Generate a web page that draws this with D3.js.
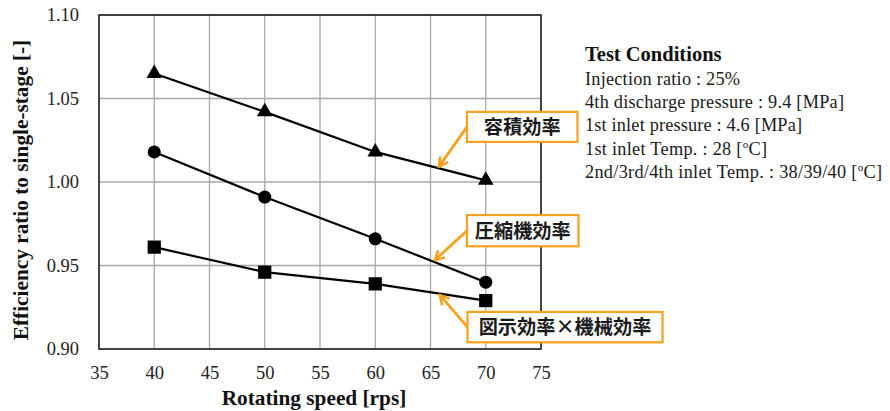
<!DOCTYPE html>
<html>
<head>
<meta charset="utf-8">
<script src="https://cdn.jsdelivr.net/npm/d3@7"></script>
<style>
  html, body { margin: 0; padding: 0; background: #fff; }
  svg { display: block; }
</style>
</head>
<body>
<svg id="chart" width="890" height="411"></svg>
<script>
// Rotating speed [rps]
const speeds = [40, 50, 60, 70];

// Efficiency ratios to single-stage compression
const volumetricEff  = [1.065, 1.042, 1.018, 1.001];   // 容積効率 (triangles)
const compressorEff  = [1.018, 0.991, 0.966, 0.940];   // 圧縮機効率 (circles)
const indicatedMech  = [0.961, 0.946, 0.939, 0.929];   // 図示効率×機械効率 (squares)

const xTicks = [35, 40, 45, 50, 55, 60, 65, 70, 75];
const yTicks = [0.90, 0.95, 1.00, 1.05, 1.10];

// Callout labels: arrow tip on the curve, box extent (data units)
const calloutLabels = ["容積効率", "圧縮機効率", "図示効率×機械効率"];
const calloutTips   = [[65.77, 1.0092], [65.40, 0.9533], [65.86, 0.9323]];
const calloutBoxes  = [[68.3, 78.3, 1.0420, 1.0240], [68.3, 78.4, 0.9802, 0.9615], [68.35, 86.0, 0.9222, 0.9040]];

const conditionTitle = "Test Conditions";
const conditionLines = [
  ["Injection ratio : 25%"],
  ["4th discharge pressure : 9.4 [MPa]"],
  ["1st inlet pressure : 4.6 [MPa]"],
  ["1st inlet Temp. : 28 [", "o", "C]"],
  ["2nd/3rd/4th inlet Temp. : 38/39/40 [", "o", "C]"]
];
// set widths of the condition lines (px)
const conditionWidths = [155, 259, 217, 182, 297];

const svg = d3.select("#chart");
const serif = "'Liberation Serif', 'Times New Roman', serif";
const cjk = "'Noto Sans CJK JP', 'Noto Sans CJK SC', sans-serif";
const orange = "#F7A11E";

const x = d3.scaleLinear().domain([35, 75]).range([99, 541]);
const y = d3.scaleLinear().domain([0.90, 1.10]).range([349, 15]);

// grid
const grid = svg.append("g");
grid.selectAll("line.v").data(xTicks).join("line")
  .attr("x1", d => x(d)).attr("x2", d => x(d))
  .attr("y1", y(0.90)).attr("y2", y(1.10))
  .attr("stroke", "#a8a8a8").attr("stroke-width", 1.3);
grid.selectAll("line.h").data(yTicks).join("line")
  .attr("x1", x(35)).attr("x2", x(75))
  .attr("y1", d => y(d)).attr("y2", d => y(d))
  .attr("stroke", "#a8a8a8").attr("stroke-width", 1.3);

// plot frame
svg.append("rect")
  .attr("x", x(35)).attr("y", y(1.10))
  .attr("width", x(75) - x(35)).attr("height", y(0.90) - y(1.10))
  .attr("fill", "none").attr("stroke", "#222").attr("stroke-width", 1.6);

// axes (labels only; gridlines serve as ticks)
const xAxis = d3.axisBottom(x).tickValues(xTicks).tickSize(0).tickPadding(17).tickFormat(d3.format("d"));
const gx = svg.append("g").attr("transform", `translate(0,${y(0.90)})`).call(xAxis);
gx.select(".domain").remove();
gx.selectAll("text").attr("font-family", serif).attr("font-size", 18.5).attr("fill", "#222");

const yAxis = d3.axisLeft(y).tickValues(yTicks).tickSize(0).tickPadding(20).tickFormat(d3.format(".2f"));
const gy = svg.append("g").attr("transform", `translate(${x(35)},0)`).call(yAxis);
gy.select(".domain").remove();
gy.selectAll("text").attr("font-family", serif).attr("font-size", 18.5).attr("fill", "#222");

// axis titles
svg.append("text")
  .attr("x", 314).attr("y", 405)
  .attr("text-anchor", "middle")
  .attr("font-family", serif).attr("font-weight", "bold").attr("font-size", 21.3)
  .attr("fill", "#111")
  .text("Rotating speed [rps]");

svg.append("text")
  .attr("transform", "translate(28,190) rotate(-90)")
  .attr("text-anchor", "middle")
  .attr("font-family", serif).attr("font-weight", "bold").attr("font-size", 21.3)
  .attr("fill", "#111")
  .text("Efficiency ratio to single-stage [-]");

// series
const series = [
  { values: volumetricEff, symbol: d3.symbolTriangle, size: 105 },
  { values: compressorEff, symbol: d3.symbolCircle, size: 135 },
  { values: indicatedMech, symbol: d3.symbolSquare, size: 175 }
];
const line = d3.line().x(d => x(d[0])).y(d => y(d[1]));

series.forEach(s => {
  const pts = speeds.map((v, i) => [v, s.values[i]]);
  svg.append("path")
    .attr("d", line(pts))
    .attr("fill", "none").attr("stroke", "#000").attr("stroke-width", 2.2);
  svg.append("g").selectAll("path").data(pts).join("path")
    .attr("transform", d => `translate(${x(d[0])},${y(d[1])})`)
    .attr("d", d3.symbol().type(s.symbol).size(s.size))
    .attr("fill", "#000");
});

// callouts
const defs = svg.append("defs");
defs.append("marker")
  .attr("id", "vhead").attr("viewBox", "0 0 12 12")
  .attr("refX", 10).attr("refY", 6)
  .attr("markerWidth", 12).attr("markerHeight", 12)
  .attr("markerUnits", "userSpaceOnUse")
  .attr("orient", "auto")
  .append("path")
  .attr("d", "M1,1 L10,6 L1,11")
  .attr("fill", "none").attr("stroke", orange).attr("stroke-width", 2.6)
  .attr("stroke-linejoin", "miter");

calloutLabels.forEach((label, i) => {
  const [bx0, bx1, by0, by1] = calloutBoxes[i];
  const left = x(bx0), right = x(bx1), top = y(by0), bottom = y(by1);
  const [tx, ty] = calloutTips[i];
  svg.append("line")
    .attr("x1", left).attr("y1", (top + bottom) / 2)
    .attr("x2", x(tx)).attr("y2", y(ty))
    .attr("stroke", orange).attr("stroke-width", 2.8)
    .attr("marker-end", "url(#vhead)");
  svg.append("rect")
    .attr("x", left).attr("y", top)
    .attr("width", right - left).attr("height", bottom - top)
    .attr("fill", "#fff").attr("stroke", orange).attr("stroke-width", 2.2);
  svg.append("text")
    .attr("x", (left + right) / 2).attr("y", (top + bottom) / 2)
    .attr("dy", "0.37em")
    .attr("text-anchor", "middle")
    .attr("font-family", cjk).attr("font-weight", 700).attr("font-size", 19.2)
    .attr("fill", "#1a1a1a")
    .text(label);
});

// test conditions block
const cond = svg.append("g").attr("transform", "translate(585,0)");
cond.append("text")
  .attr("x", 0).attr("y", 60.5)
  .attr("font-family", serif).attr("font-weight", "bold").attr("font-size", 20.5)
  .attr("fill", "#111")
  .text(conditionTitle);

conditionLines.forEach((parts, i) => {
  const t = cond.append("text")
    .attr("x", 0).attr("y", 85 + i * 23.2)
    .attr("font-family", serif).attr("font-size", 18.3)
    .attr("fill", "#1a1a1a")
    .attr("textLength", conditionWidths[i])
    .attr("lengthAdjust", "spacing");
  parts.forEach((p, j) => {
    const ts = t.append("tspan").text(p);
    if (parts.length === 3 && j === 1) {
      ts.attr("font-size", 11).attr("dy", -7);
    } else if (parts.length === 3 && j === 2) {
      ts.attr("dy", 7);
    }
  });
});
</script>
</body>
</html>
